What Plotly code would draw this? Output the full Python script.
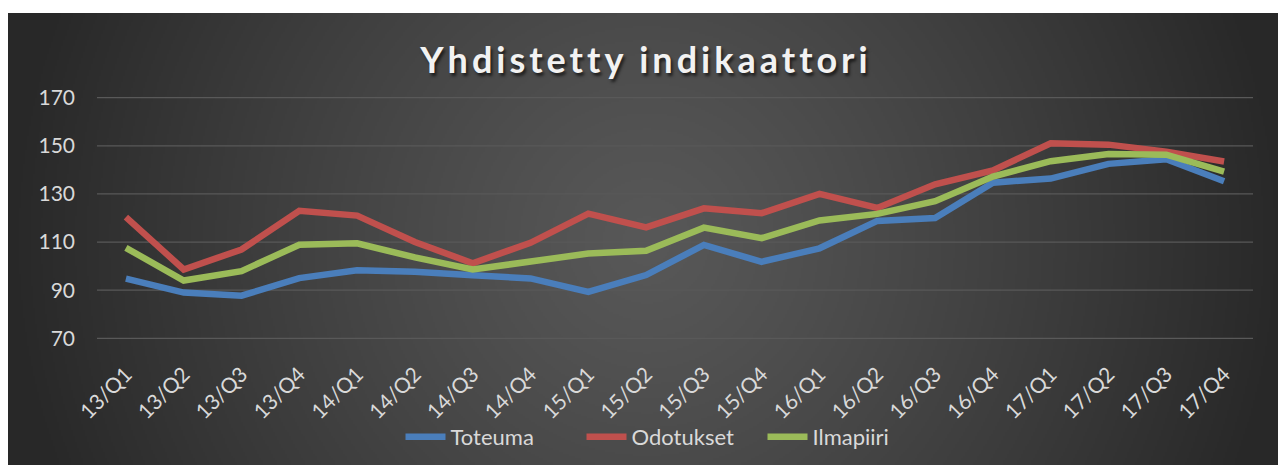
import base64, struct, zlib
import numpy as np
import plotly.graph_objects as go

categories = ["13/Q1", "13/Q2", "13/Q3", "13/Q4", "14/Q1", "14/Q2", "14/Q3", "14/Q4",
              "15/Q1", "15/Q2", "15/Q3", "15/Q4", "16/Q1", "16/Q2", "16/Q3", "16/Q4",
              "17/Q1", "17/Q2", "17/Q3", "17/Q4"]
toteuma = [94.8, 89.0, 87.7, 95.0, 98.3, 97.7, 96.2, 94.9, 89.3, 96.3, 108.8, 101.8,
           107.4, 118.8, 120.0, 134.7, 136.4, 142.5, 144.4, 135.3]
odotukset = [120.4, 98.6, 106.9, 123.0, 121.0, 110.0, 101.2, 109.7, 121.8, 116.1, 124.0, 122.0,
             130.0, 124.2, 134.0, 139.8, 151.1, 150.5, 147.6, 143.5]
ilmapiiri = [107.6, 94.0, 97.9, 108.9, 109.5, 103.6, 98.6, 101.8, 105.2, 106.4, 116.0, 111.6,
             119.0, 121.7, 127.0, 137.2, 143.6, 146.6, 146.3, 139.3]
series_names = ["Toteuma", "Odotukset", "Ilmapiiri"]
series_colors = ["#4A7EBB", "#C0504D", "#9BBB59"]
y_ticks = [70, 90, 110, 130, 150, 170]
title_text = "Yhdistetty indikaattori"


def png_data_uri(rgb):
    h, w, _ = rgb.shape
    raw = b"".join(b"\x00" + rgb[i].tobytes() for i in range(h))

    def chunk(tag, data):
        c = struct.pack(">I", len(data)) + tag + data
        return c + struct.pack(">I", zlib.crc32(tag + data) & 0xFFFFFFFF)

    png = b"\x89PNG\r\n\x1a\n" + chunk(b"IHDR", struct.pack(">IIBBBBB", w, h, 8, 2, 0, 0, 0))
    png += chunk(b"IDAT", zlib.compress(raw, 9)) + chunk(b"IEND", b"")
    return "data:image/png;base64," + base64.b64encode(png).decode()


# The page keeps the browser's default 8px body margin; everything below is
# laid out in page pixels and converted to figure pixels with this offset.
OFF = 8
FIG_W, FIG_H = 1286, 465

Y_RANGE = [69.7, 170.3]
ML, MT = 97 - OFF, 97 - OFF
MR, MB = FIG_W - (1253 - OFF), FIG_H - (339 - OFF)
PW, PH = FIG_W - ML - MR, FIG_H - MT - MB
GRID_COLOR = "#595959"


def page_x(px):
    return (px - OFF - ML) / PW


def page_y(py):
    return (FIG_H - MB - (py - OFF)) / PH


def cont_x(px):
    return (px - OFF) / FIG_W


def cont_y(py):
    return 1 - (py - OFF) / FIG_H


# radial gradient background (Excel style): page x 8..1286, y 13..465
BG_X0, BG_Y0, BG_X1, BG_Y1 = 8, 13, 1286, 465
SC = 2
W, H = (BG_X1 - BG_X0) // SC, (BG_Y1 - BG_Y0) // SC
yy, xx = np.mgrid[0:H, 0:W]
d = np.sqrt((xx * SC + BG_X0 - 646.0) ** 2 + (yy * SC + BG_Y0 - 240.0) ** 2) / 640.0
d = np.clip(d, 0, 1)
c_center, c_edge = 88.0, 40.0
val = c_center + (c_edge - c_center) * d ** 1.2
bg = np.repeat(val[:, :, None], 3, axis=2).astype(np.uint8)
bg_uri = png_data_uri(bg)

fig = go.Figure()
for name, vals, col in zip(series_names, [toteuma, odotukset, ilmapiiri], series_colors):
    fig.add_trace(go.Scatter(x=categories, y=vals, name=name, mode="lines",
                             line=dict(color=col, width=6.5)))

# grid lines drawn as shapes (one per tick) so the lowest one is not dropped
grid_shapes = [dict(type="line", xref="paper", yref="y", x0=0, x1=1, y0=t, y1=t,
                    line=dict(color=GRID_COLOR, width=1.3), layer="below")
               for t in y_ticks]

styled_title = '<span style="letter-spacing:4px">' + title_text + '</span>'

fig.update_layout(
    width=FIG_W, height=FIG_H, autosize=False,
    margin=dict(l=ML, r=MR, t=MT, b=MB, autoexpand=False),
    paper_bgcolor="white", plot_bgcolor="rgba(0,0,0,0)",
    font=dict(family="Lato", color="#D9D9D9"),
    title=dict(text=styled_title,
               font=dict(family="Lato", size=36, color="#F2F2F2", weight="bold",
                         shadow="2px 3px 3px rgba(0,0,0,0.6)"),
               x=cont_x(646), xanchor="center", xref="container",
               y=cont_y(60), yanchor="middle"),
    xaxis=dict(type="category", range=[-0.5, 19.5], tickangle=-45, showgrid=False,
               showline=False, ticks="", tickfont=dict(size=21, color="#D9D9D9"),
               ticklabelstandoff=18, automargin=False),
    yaxis=dict(range=Y_RANGE, tickvals=y_ticks, showgrid=False,
               zeroline=False, showline=False, ticks="",
               tickfont=dict(size=21, color="#D9D9D9"), ticklabelstandoff=21,
               automargin=False),
    shapes=grid_shapes,
    legend=dict(orientation="h", xref="container", yref="container",
                x=cont_x(672), xanchor="center", y=cont_y(437), yanchor="middle",
                font=dict(size=22, color="#D9D9D9"),
                bgcolor="rgba(0,0,0,0)", itemwidth=40, entrywidth=126, entrywidthmode="pixels"),
    images=[dict(source=bg_uri, xref="paper", yref="paper",
                 x=page_x(BG_X0), y=page_y(BG_Y0),
                 sizex=(BG_X1 - BG_X0) / PW, sizey=(BG_Y1 - BG_Y0) / PH,
                 sizing="stretch", xanchor="left", yanchor="top", layer="below")],
    showlegend=True,
)

fig.write_html("out.html", config={"displayModeBar": False})
